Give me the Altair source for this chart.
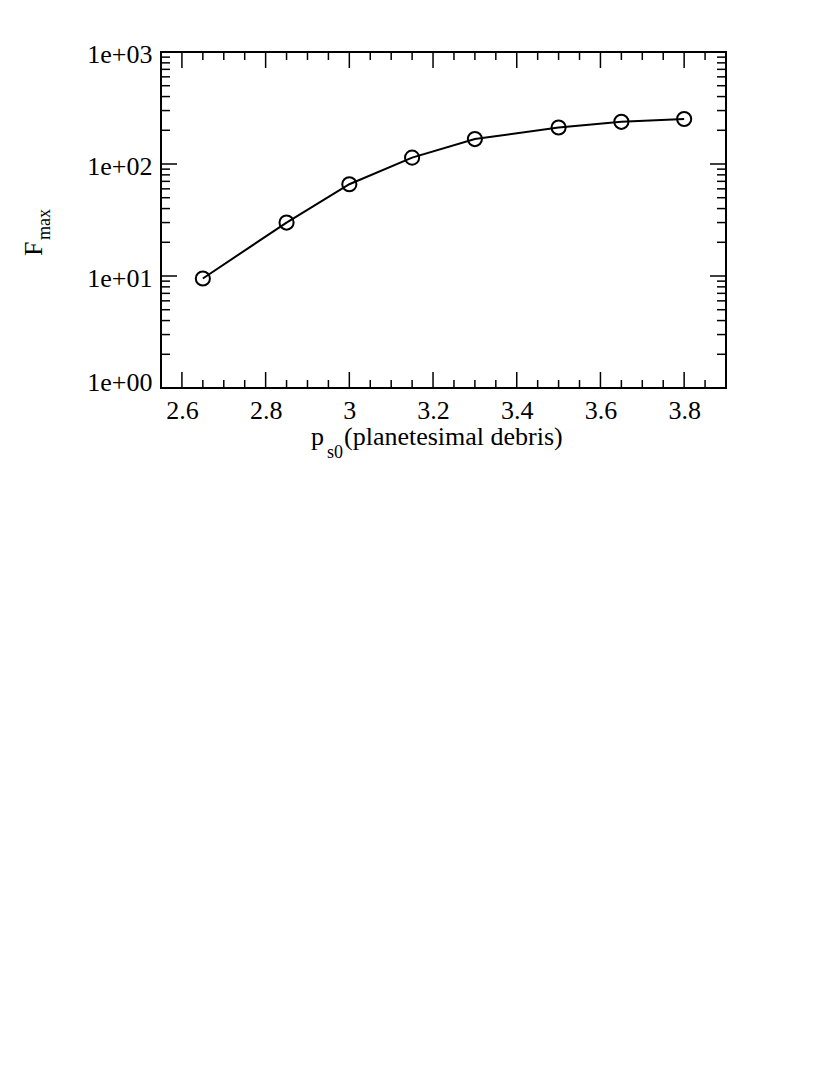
import altair as alt
import pandas as pd

# data
p_s0 = [2.65, 2.85, 3.0, 3.15, 3.3, 3.5, 3.65, 3.8]
f_max = [9.5, 30.0, 66.0, 114.0, 167.0, 212.0, 238.0, 252.0]

x_major = [2.6, 2.8, 3.0, 3.2, 3.4, 3.6, 3.8]
x_minor = [2.65, 2.7, 2.75, 2.85, 2.9, 2.95, 3.05, 3.1, 3.15, 3.25, 3.3, 3.35,
           3.45, 3.5, 3.55, 3.65, 3.7, 3.75, 3.85]
y_major = [1, 10, 100, 1000]
y_minor = [2, 3, 4, 5, 6, 7, 8, 9, 20, 30, 40, 50, 60, 70, 80, 90,
           200, 300, 400, 500, 600, 700, 800, 900]

W, H = 565, 336
FONT = "Liberation Serif"
FS = 26

df = pd.DataFrame({"p": p_s0, "f": f_max})
xmaj = pd.DataFrame({"t": x_major})
xmin = pd.DataFrame({"t": x_minor})
ymaj = pd.DataFrame({"t": y_major})
ymin = pd.DataFrame({"t": y_minor})

xscale = alt.Scale(domain=[2.55, 3.9], nice=False, zero=False)
yscale = alt.Scale(type="log", domain=[1, 1000], nice=False)

xaxis = alt.Axis(values=x_major, format="~g", ticks=False, tickSize=0, domain=False,
                 grid=False, title=None, labelFont=FONT, labelFontSize=FS,
                 labelColor="black", labelPadding=9, labelFlush=False)
yaxis = alt.Axis(values=y_major, labelExpr="'1e+0' + round(log(datum.value)/LN10)",
                 ticks=False, tickSize=0, domain=False, grid=False, title=None,
                 labelFont=FONT, labelFontSize=FS, labelColor="black",
                 labelPadding=9, labelFlush=False,
                 labelOffset={"condition": {"test": "datum.value == 1", "value": -6}, "value": 2})

line = alt.Chart(df).mark_line(color="black", strokeWidth=2).encode(
    x=alt.X("p:Q", scale=xscale, axis=xaxis),
    y=alt.Y("f:Q", scale=yscale, axis=yaxis),
)
pts = alt.Chart(df).mark_point(shape="circle", filled=False, color="black",
                               strokeWidth=2, size=200, opacity=1).encode(
    x=alt.X("p:Q", scale=xscale, axis=xaxis),
    y=alt.Y("f:Q", scale=yscale, axis=yaxis),
)

def xticks(data, length):
    bot = alt.Chart(data).mark_rule(color="black", strokeWidth=1.5).encode(
        x=alt.X("t:Q", scale=xscale, axis=xaxis),
        y=alt.value(H), y2=alt.value(H - length))
    top = alt.Chart(data).mark_rule(color="black", strokeWidth=1.5).encode(
        x=alt.X("t:Q", scale=xscale, axis=xaxis),
        y=alt.value(0), y2=alt.value(length))
    return [bot, top]

def yticks(data, length):
    left = alt.Chart(data).mark_rule(color="black", strokeWidth=1.5).encode(
        y=alt.Y("t:Q", scale=yscale, axis=yaxis),
        x=alt.value(0), x2=alt.value(length))
    right = alt.Chart(data).mark_rule(color="black", strokeWidth=1.5).encode(
        y=alt.Y("t:Q", scale=yscale, axis=yaxis),
        x=alt.value(W), x2=alt.value(W - length))
    return [left, right]

def label(text, x, y, size, angle=0):
    return alt.Chart(pd.DataFrame({"s": [text]})).mark_text(
        font=FONT, fontSize=size, color="black", align="left",
        baseline="alphabetic", angle=angle).encode(
        text="s:N", x=alt.value(x), y=alt.value(y))

titles = [
    label("p", 150, 393, FS),
    label("s0", 166, 406, 18),
    label("(planetesimal debris)", 183, 393, FS),
    label("F", -119, 204, FS, angle=270),
    label("max", -111, 188, 18, angle=270),
]

layers = (xticks(xmaj, 16) + xticks(xmin, 8) + yticks(ymaj, 16) + yticks(ymin, 9)
          + [line, pts] + titles)

chart = alt.layer(*layers).properties(
    width=W, height=H,
    autosize=alt.AutoSizeParams(type="none"),
    padding={"left": 153, "top": 44, "right": 96, "bottom": 100},
).configure_view(stroke="black", strokeWidth=2)

chart.save("out.html", embed_options={"renderer": "svg", "actions": False})
